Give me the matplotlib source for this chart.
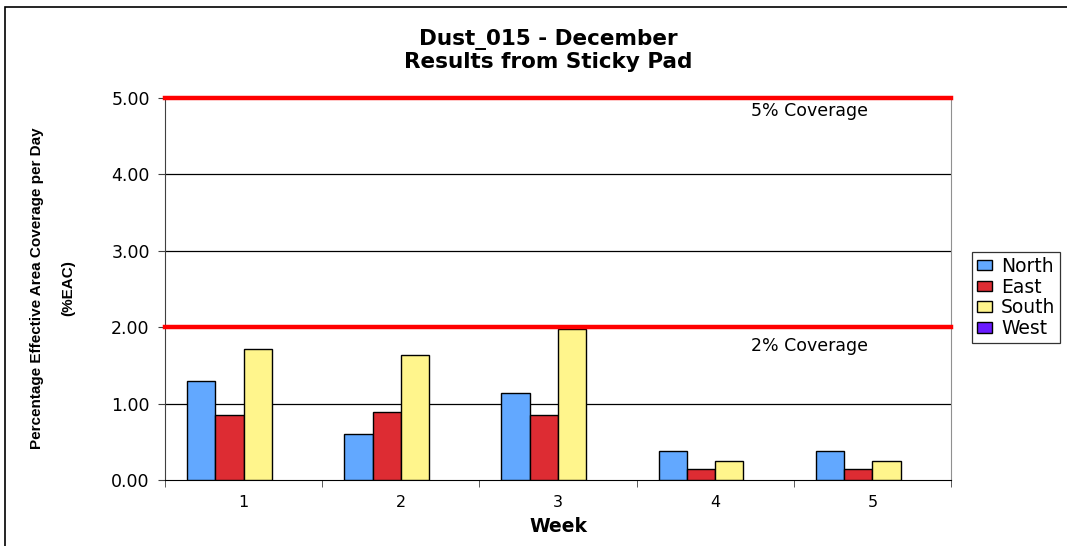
import numpy as np
import matplotlib
matplotlib.use('Agg')
import matplotlib.pyplot as plt
from matplotlib.patches import Rectangle

weeks = ['1', '2', '3', '4', '5']
series = ['North', 'East', 'South', 'West']
north = [1.29, 0.60, 1.14, 0.38, 0.38]
east = [0.85, 0.89, 0.85, 0.15, 0.15]
south = [1.71, 1.64, 1.98, 0.25, 0.25]
west = [0.0, 0.0, 0.0, 0.0, 0.0]
colors = ['#62A8FF', '#DD2C33', '#FFF58C', '#6A1BFF']
limits = [2.0, 5.0]
limit_labels = ['2% Coverage', '5% Coverage']

plt.rcParams['font.family'] = ['DejaVu Sans']

fig = plt.figure(figsize=(10.67, 5.46), dpi=100)
ax = fig.add_axes([165 / 1067, 1 - 480 / 546, (951 - 165) / 1067, (480 - 98) / 546])

x = np.arange(1, len(weeks) + 1)
w = 0.18
values = [north, east, south, west]
for i, (name, vals) in enumerate(zip(series, values)):
    # zero-height bars get no outline, so nothing shows for West
    lws = [1.0 if v > 0 else 0.0 for v in vals]
    ax.bar(x + (i - 1.5) * w, vals, width=w, color=colors[i], edgecolor='black',
           linewidth=lws, label=name, zorder=3)

# grid + limit lines
for yv in [1, 3, 4]:
    ax.axhline(yv, color='black', lw=0.9, zorder=1)
for yv, lab, dy in zip(limits, limit_labels, [0.25, 0.17]):
    ax.axhline(yv, color='#FF0000', lw=3.2, zorder=4, clip_on=False)
    ax.text(4.6, yv - dy, lab, ha='center', va='center', fontsize=12.5)

ax.set_xlim(0.5, 5.5)
ax.set_ylim(0, 5)
ax.set_yticks([0, 1, 2, 3, 4, 5])
ax.set_yticklabels(['%.2f' % v for v in [0, 1, 2, 3, 4, 5]], fontsize=12.5)
ax.set_xticks(x)
ax.set_xticklabels(weeks, fontsize=11.5)
ax.set_xticks(np.arange(0.5, 6.0, 1.0), minor=True)
ax.tick_params(axis='x', which='major', length=0, pad=11)
ax.tick_params(axis='x', which='minor', length=5, direction='out', color='#404040')
ax.tick_params(axis='y', length=5, direction='out', color='#404040', pad=6)

ax.spines['left'].set_color('#404040')
ax.spines['bottom'].set_color('black')
ax.spines['right'].set_color('#909090')
ax.spines['top'].set_color('#909090')

ax.set_xlabel('Week', fontsize=13.5, fontweight='bold', labelpad=5)

fig.text(548 / 1067, 1 - 40 / 546, 'Dust_015 - December', ha='center', va='center',
         fontsize=15.5, fontweight='bold')
fig.text(548 / 1067, 1 - 62 / 546, 'Results from Sticky Pad', ha='center', va='center',
         fontsize=15.5, fontweight='bold')

fig.text(37 / 1067, 1 - 288 / 546, 'Percentage Effective Area Coverage per Day',
         rotation=90, ha='center', va='center', fontsize=11, fontweight='bold',
         family='Liberation Sans')
fig.text(68 / 1067, 1 - 288 / 546, '(%EAC)', rotation=90, ha='center', va='center',
         fontsize=11, fontweight='bold', family='Liberation Sans')

leg = fig.legend(loc='upper left', bbox_to_anchor=(972 / 1067, 1 - 252 / 546),
                 fontsize=13.5, frameon=True, fancybox=False, edgecolor='black',
                 handlelength=0.8, handleheight=0.5, handletextpad=0.5,
                 labelspacing=0.1, borderpad=0.25, borderaxespad=0)
leg.get_frame().set_linewidth(0.9)
for h in leg.legend_handles:
    h.set_edgecolor('black')
    h.set_linewidth(1.0)

# outer chart border
fig.patches.append(Rectangle((5 / 1067, -0.05), 1.2, 1 - 7 / 546 + 0.05,
                             transform=fig.transFigure, fill=False,
                             edgecolor='black', lw=1.2))

fig.savefig('out.png', dpi=100)
